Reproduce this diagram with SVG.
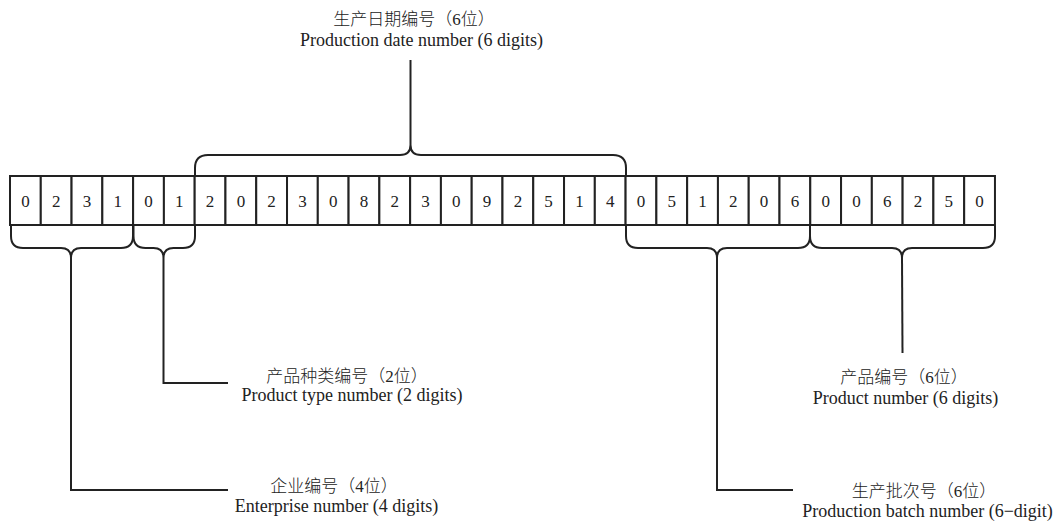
<svg xmlns="http://www.w3.org/2000/svg" width="1055" height="525" viewBox="0 0 1055 525">
<style>
.cell{fill:#fff;stroke:#222;stroke-width:2}
.d{font-family:"Liberation Serif",serif;font-size:17px;fill:#222;text-anchor:middle}
.zh{font-family:"Liberation Serif","Noto Sans CJK SC",serif;font-size:17px;font-weight:300;fill:#222;text-anchor:middle}
.en{font-family:"Liberation Serif",serif;font-size:18px;fill:#222;text-anchor:middle}
.br{fill:none;stroke:#222;stroke-width:2}
</style>
<rect width="1055" height="525" fill="#fff"/>
<g id="cells">
<g id="c0"><rect class="cell" x="10" y="176" width="30.78" height="49"/><text class="d" x="25.4" y="207">0</text></g>
<g id="c1"><rect class="cell" x="40.78" y="176" width="30.78" height="49"/><text class="d" x="56.2" y="207">2</text></g>
<g id="c2"><rect class="cell" x="71.56" y="176" width="30.78" height="49"/><text class="d" x="87" y="207">3</text></g>
<g id="c3"><rect class="cell" x="102.34" y="176" width="30.78" height="49"/><text class="d" x="117.7" y="207">1</text></g>
<g id="c4"><rect class="cell" x="133.12" y="176" width="30.78" height="49"/><text class="d" x="148.5" y="207">0</text></g>
<g id="c5"><rect class="cell" x="163.9" y="176" width="30.78" height="49"/><text class="d" x="179.3" y="207">1</text></g>
<g id="c6"><rect class="cell" x="194.68" y="176" width="30.78" height="49"/><text class="d" x="210.1" y="207">2</text></g>
<g id="c7"><rect class="cell" x="225.46" y="176" width="30.78" height="49"/><text class="d" x="240.9" y="207">0</text></g>
<g id="c8"><rect class="cell" x="256.24" y="176" width="30.78" height="49"/><text class="d" x="271.6" y="207">2</text></g>
<g id="c9"><rect class="cell" x="287.02" y="176" width="30.78" height="49"/><text class="d" x="302.4" y="207">3</text></g>
<g id="c10"><rect class="cell" x="317.8" y="176" width="30.78" height="49"/><text class="d" x="333.2" y="207">0</text></g>
<g id="c11"><rect class="cell" x="348.58" y="176" width="30.78" height="49"/><text class="d" x="364" y="207">8</text></g>
<g id="c12"><rect class="cell" x="379.36" y="176" width="30.78" height="49"/><text class="d" x="394.8" y="207">2</text></g>
<g id="c13"><rect class="cell" x="410.14" y="176" width="30.78" height="49"/><text class="d" x="425.5" y="207">3</text></g>
<g id="c14"><rect class="cell" x="440.92" y="176" width="30.78" height="49"/><text class="d" x="456.3" y="207">0</text></g>
<g id="c15"><rect class="cell" x="471.7" y="176" width="30.78" height="49"/><text class="d" x="487.1" y="207">9</text></g>
<g id="c16"><rect class="cell" x="502.48" y="176" width="30.78" height="49"/><text class="d" x="517.9" y="207">2</text></g>
<g id="c17"><rect class="cell" x="533.26" y="176" width="30.78" height="49"/><text class="d" x="548.6" y="207">5</text></g>
<g id="c18"><rect class="cell" x="564.04" y="176" width="30.78" height="49"/><text class="d" x="579.4" y="207">1</text></g>
<g id="c19"><rect class="cell" x="594.82" y="176" width="30.78" height="49"/><text class="d" x="610.2" y="207">4</text></g>
<g id="c20"><rect class="cell" x="625.6" y="176" width="30.78" height="49"/><text class="d" x="641" y="207">0</text></g>
<g id="c21"><rect class="cell" x="656.38" y="176" width="30.78" height="49"/><text class="d" x="671.8" y="207">5</text></g>
<g id="c22"><rect class="cell" x="687.16" y="176" width="30.78" height="49"/><text class="d" x="702.5" y="207">1</text></g>
<g id="c23"><rect class="cell" x="717.94" y="176" width="30.78" height="49"/><text class="d" x="733.3" y="207">2</text></g>
<g id="c24"><rect class="cell" x="748.72" y="176" width="30.78" height="49"/><text class="d" x="764.1" y="207">0</text></g>
<g id="c25"><rect class="cell" x="779.5" y="176" width="30.78" height="49"/><text class="d" x="794.9" y="207">6</text></g>
<g id="c26"><rect class="cell" x="810.28" y="176" width="30.78" height="49"/><text class="d" x="825.7" y="207">0</text></g>
<g id="c27"><rect class="cell" x="841.06" y="176" width="30.78" height="49"/><text class="d" x="856.5" y="207">0</text></g>
<g id="c28"><rect class="cell" x="871.84" y="176" width="30.78" height="49"/><text class="d" x="887.2" y="207">6</text></g>
<g id="c29"><rect class="cell" x="902.62" y="176" width="30.78" height="49"/><text class="d" x="918" y="207">2</text></g>
<g id="c30"><rect class="cell" x="933.4" y="176" width="30.78" height="49"/><text class="d" x="948.8" y="207">5</text></g>
<g id="c31"><rect class="cell" x="964.18" y="176" width="30.78" height="49"/><text class="d" x="979.6" y="207">0</text></g>
</g>
<g id="connectors">
<path class="br" d="M195,176 L195,168 Q195,155 208,155 L400,155 Q410.5,155 410.5,145 Q410.5,155 421,155 L613,155 Q626,155 626,168 L626,176"/>
<path class="br" d="M410.5,145 L410.5,60"/>
<path class="br" d="M11,226 L11,236 Q11,248 23,248 L61,248 Q71,248 71,258 Q71,248 81,248 L121,248 Q133,248 133,236 L133,226"/>
<path class="br" d="M71,258 L71,490 L228,490"/>
<path class="br" d="M133.5,226 L133.5,236 Q133.5,248 145.5,248 L153.5,248 Q163.5,248 163.5,258 Q163.5,248 173.5,248 L183,248 Q195,248 195,236 L195,226"/>
<path class="br" d="M163.5,258 L163.5,383 L228,383"/>
<path class="br" d="M626,226 L626,236 Q626,248 638,248 L707,248 Q717,248 717,258 Q717,248 727,248 L798,248 Q810,248 810,236 L810,226"/>
<path class="br" d="M717,258 L717,490 L793,490"/>
<path class="br" d="M810,226 L810,236 Q810,248 822,248 L892,248 Q902,248 902,258 Q902,248 912,248 L983,248 Q995,248 995,236 L995,226"/>
<path class="br" d="M902,258 L902.5,353"/>
</g>
<g id="label-date"><text class="zh" x="414" y="25">生产日期编号（6位）</text><text class="en" x="421.5" y="46">Production date number (6 digits)</text></g>
<g id="label-type"><text class="zh" x="347" y="382">产品种类编号（2位）</text><text class="en" x="352" y="401">Product type number (2 digits)</text></g>
<g id="label-enterprise"><text class="zh" x="334" y="492">企业编号（4位）</text><text class="en" x="336.5" y="512">Enterprise number (4 digits)</text></g>
<g id="label-product"><text class="zh" x="904" y="383">产品编号（6位）</text><text class="en" x="905.5" y="404">Product number (6 digits)</text></g>
<g id="label-batch"><text class="zh" x="924" y="497">生产批次号（6位）</text><text class="en" x="927.5" y="517">Production batch number (6−digit)</text></g>
</svg>
